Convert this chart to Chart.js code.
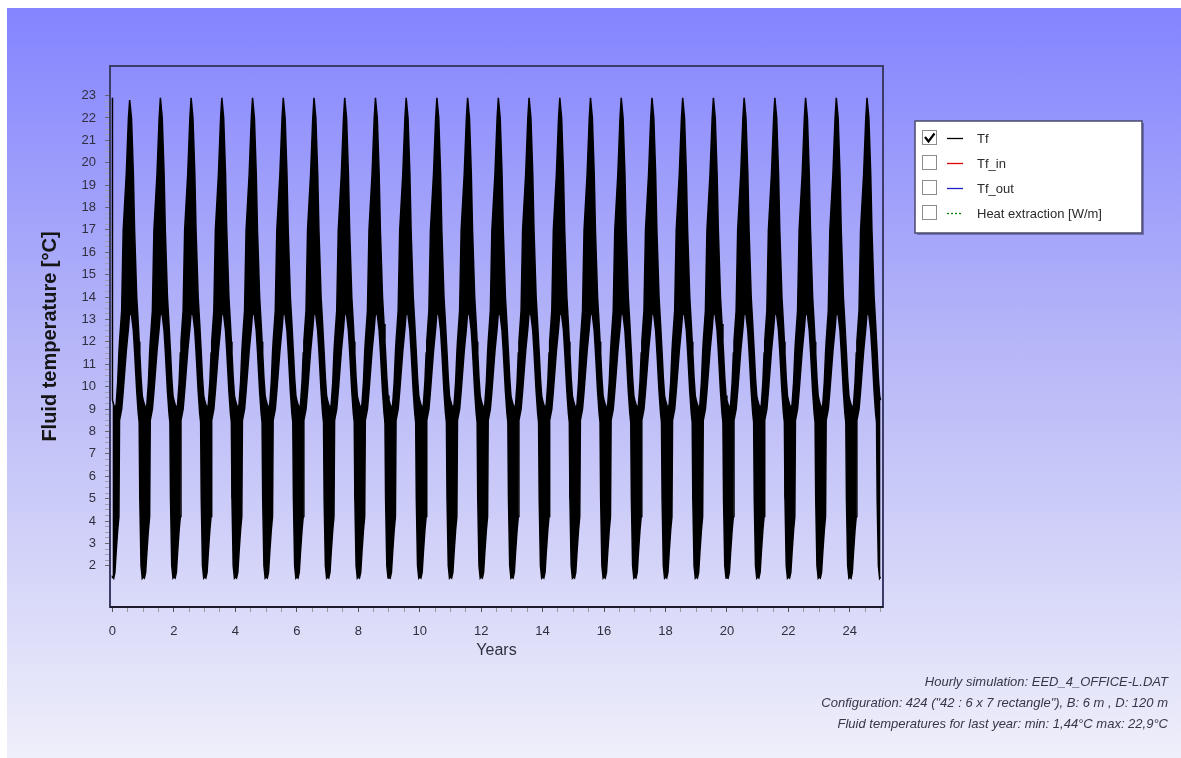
<!DOCTYPE html>
<html>
<head>
<meta charset="utf-8">
<script src="https://cdn.jsdelivr.net/npm/chart.js@4.4.0/dist/chart.umd.min.js"></script>
<style>
html, body { margin: 0; padding: 0; background: #fff; width: 1181px; height: 758px; overflow: hidden; }
#bg { position: absolute; left: 7px; top: 8px; width: 1174px; height: 750px;
      background: linear-gradient(to bottom, #8484ff 0%, #b6b6f8 45%, #efeffa 100%); }
#cv { position: absolute; left: 0; top: 0; }
.note { position: absolute; right: 13px; font: italic 13px Arial, "Liberation Sans", sans-serif;
        color: #363646; white-space: nowrap; line-height: 16px; }
</style>
</head>
<body>
<div id="bg"></div>
<canvas id="cv" width="1181" height="758"></canvas>
<div class="note" style="top:674px">Hourly simulation: EED_4_OFFICE-L.DAT</div>
<div class="note" style="top:695px">Configuration: 424 ("42 : 6 x 7 rectangle"), B: 6 m , D: 120 m</div>
<div class="note" style="top:716px">Fluid temperatures for last year: min: 1,44°C max: 22,9°C</div>
<script>
// hourly Tf over 25 years, read as the edges of the black band
var simYears = 25;
// position inside a year (0 = Jan 1) and band edges in °C
var bandPhase  = [0.00, 0.04, 0.08, 0.12, 0.17, 0.21, 0.23, 0.30, 0.35, 0.45, 0.52, 0.56, 0.62, 0.68, 0.72, 0.79, 0.84, 0.87, 0.89, 0.93, 0.97];
var bandTop    = [9.4,  9.2,  9.0,  9.2, 10.2, 11.5, 12.0, 13.4, 17.0, 19.5, 22.0, 22.9, 22.0, 19.5, 17.0, 14.0, 12.8, 12.0, 11.5, 10.4,  9.6];
var bandBottom = [1.5,  1.45, 1.7,  2.6,  3.6,  4.2,  8.5,  9.0,  9.8, 11.6, 12.6, 13.3, 13.2, 12.5, 11.6,  9.8,  8.8,  8.4,  5.0,  2.0, 1.45];
// yearly max / min of Tf
var yearMax = [22.8, 22.9, 22.9, 22.9, 22.9, 22.9, 22.9, 22.9, 22.9, 22.9, 22.9, 22.9, 22.9,
               22.9, 22.9, 22.9, 22.9, 22.9, 22.9, 22.9, 22.9, 22.9, 22.9, 22.9, 22.9];
var yearMin = [1.44, 1.45, 1.45, 1.45, 1.45, 1.45, 1.45, 1.45, 1.45, 1.45, 1.45, 1.45, 1.45,
               1.45, 1.45, 1.45, 1.45, 1.45, 1.45, 1.45, 1.45, 1.45, 1.45, 1.45, 1.44];
// first hour of the simulation
var startTop = 22.9, startBottom = 1.44;

var xTickLabels = [0, 2, 4, 6, 8, 10, 12, 14, 16, 18, 20, 22, 24];
var yTickLabels = [2, 3, 4, 5, 6, 7, 8, 9, 10, 11, 12, 13, 14, 15, 16, 17, 18, 19, 20, 21, 22, 23];

var seriesNames = ['Tf', 'Tf_in', 'Tf_out', 'Heat extraction [W/m]'];
var seriesColors = ['#000000', '#e00000', '#2020c0', '#008000'];
var seriesShown = [true, false, false, false];

var peakIdx = bandTop.indexOf(Math.max.apply(null, bandTop));

var topPts = [{x: 0, y: startTop}];
var botPts = [{x: 0, y: startBottom}];
for (var yr = 0; yr < simYears; yr++) {
    for (var i = 0; i < bandPhase.length; i++) {
        var t = bandTop[i], b = bandBottom[i];
        if (i === peakIdx) t = yearMax[yr];
        if (i === 1 || i === bandPhase.length - 1) b = yearMin[yr];
        topPts.push({x: yr + bandPhase[i], y: t});
        botPts.push({x: yr + bandPhase[i], y: b});
    }
}
topPts.push({x: simYears, y: bandTop[0]});
botPts.push({x: simYears, y: bandBottom[0]});

var font = 'Arial, "Liberation Sans", sans-serif';

var frame = {
    id: 'frame',
    afterDraw: function (chart) {
        var c = chart.ctx, a = chart.chartArea;
        c.save();
        c.strokeStyle = '#3c3c66';
        c.lineWidth = 2;
        c.strokeRect(a.left, a.top, a.right - a.left, a.bottom - a.top);
        c.strokeStyle = '#1c1c2c';
        c.beginPath();
        c.moveTo(a.left, a.bottom);
        c.lineTo(a.right, a.bottom);
        c.stroke();
        c.restore();
    }
};

var boxLegend = {
    id: 'boxLegend',
    afterDraw: function (chart) {
        var c = chart.ctx, a = chart.chartArea;
        var x0 = a.right + 32, y0 = a.top + 55, w = 227, h = 112;
        c.save();
        c.fillStyle = 'rgba(50,50,90,0.45)';
        c.fillRect(x0 + 2, y0 + 2, w, h);
        c.fillStyle = '#ffffff';
        c.fillRect(x0, y0, w, h);
        c.strokeStyle = '#4a4a6e';
        c.lineWidth = 1.5;
        c.strokeRect(x0, y0, w, h);
        c.font = '13px ' + font;
        c.textBaseline = 'middle';
        for (var i = 0; i < seriesNames.length; i++) {
            var cy = y0 + 17 + i * 25;
            // check box
            c.fillStyle = '#ffffff';
            c.fillRect(x0 + 7.5, cy - 7.5, 14, 14);
            c.strokeStyle = '#8c8c8c';
            c.lineWidth = 1;
            c.strokeRect(x0 + 7.5, cy - 7.5, 14, 14);
            if (seriesShown[i]) {
                c.strokeStyle = '#000';
                c.lineWidth = 2.2;
                c.beginPath();
                c.moveTo(x0 + 10, cy - 1);
                c.lineTo(x0 + 13.5, cy + 3.5);
                c.lineTo(x0 + 19.5, cy - 4.5);
                c.stroke();
            }
            // line sample
            c.strokeStyle = seriesColors[i];
            c.lineWidth = 1.3;
            c.setLineDash(i === 3 ? [2, 2] : []);
            c.beginPath();
            c.moveTo(x0 + 32, cy + 0.5);
            c.lineTo(x0 + 48, cy + 0.5);
            c.stroke();
            c.setLineDash([]);
            c.fillStyle = '#2a2a2a';
            c.fillText(seriesNames[i], x0 + 62, cy + 1);
        }
        c.restore();
    }
};

new Chart(document.getElementById('cv').getContext('2d'), {
    type: 'line',
    data: {
        datasets: [
            { label: 'Tf', data: topPts, borderColor: '#000', backgroundColor: '#000',
              borderWidth: 1.5, pointRadius: 0, fill: '+1', tension: 0 },
            { label: 'Tf low', data: botPts, borderColor: '#000', backgroundColor: '#000',
              borderWidth: 1.5, pointRadius: 0, fill: false, tension: 0 },
            { label: 'Tf_in', data: [], borderColor: seriesColors[1], hidden: true },
            { label: 'Tf_out', data: [], borderColor: seriesColors[2], hidden: true },
            { label: 'Heat extraction [W/m]', data: [], borderColor: seriesColors[3], borderDash: [2, 2], hidden: true }
        ]
    },
    options: {
        responsive: false,
        animation: false,
        devicePixelRatio: 1,
        layout: { padding: { left: 0, top: 66, right: 298, bottom: 0 } },
        plugins: { legend: { display: false }, tooltip: { enabled: false } },
        scales: {
            x: {
                type: 'linear', min: -0.08, max: 25.08,
                afterFit: function (s) { s.height = 151; },
                afterBuildTicks: function (s) {
                    var tk = [];
                    for (var v = 0; v <= 25; v += 0.5) tk.push({value: v});
                    s.ticks = tk;
                },
                ticks: {
                    autoSkip: false, maxRotation: 0, padding: 12,
                    color: '#2f2f3f', font: { size: 13, family: font },
                    callback: function (v) { return xTickLabels.indexOf(v) >= 0 ? String(v) : ''; }
                },
                grid: { drawOnChartArea: false, tickLength: 5,
                        tickColor: function (ctx) { return xTickLabels.indexOf(ctx.tick.value) >= 0 ? '#555' : '#999'; } },
                border: { display: false },
                title: { display: true, text: 'Years', color: '#2f2f3f',
                         font: { size: 16, family: font }, padding: { top: 0, bottom: 98 } }
            },
            y: {
                type: 'linear', min: 0.16, max: 24.32,
                afterFit: function (s) { s.width = 110; },
                afterBuildTicks: function (s) {
                    var tk = [];
                    for (var v = yTickLabels[0]; v <= yTickLabels[yTickLabels.length - 1]; v += 0.25) tk.push({value: v});
                    s.ticks = tk;
                },
                ticks: {
                    autoSkip: false, padding: 9,
                    color: '#2f2f3f', font: { size: 13, family: font },
                    callback: function (v) { return yTickLabels.indexOf(v) >= 0 ? String(v) : ''; }
                },
                grid: { drawOnChartArea: false, tickLength: 5,
                        tickColor: function (ctx) { return yTickLabels.indexOf(ctx.tick.value) >= 0 ? '#666' : '#a0a0b0'; } },
                border: { display: false },
                title: { display: true, text: 'Fluid temperature [°C]', color: '#151515',
                         font: { size: 20, weight: 'bold', family: font }, padding: { top: 38, bottom: 0 } }
            }
        }
    },
    plugins: [frame, boxLegend]
});
</script>
</body>
</html>
